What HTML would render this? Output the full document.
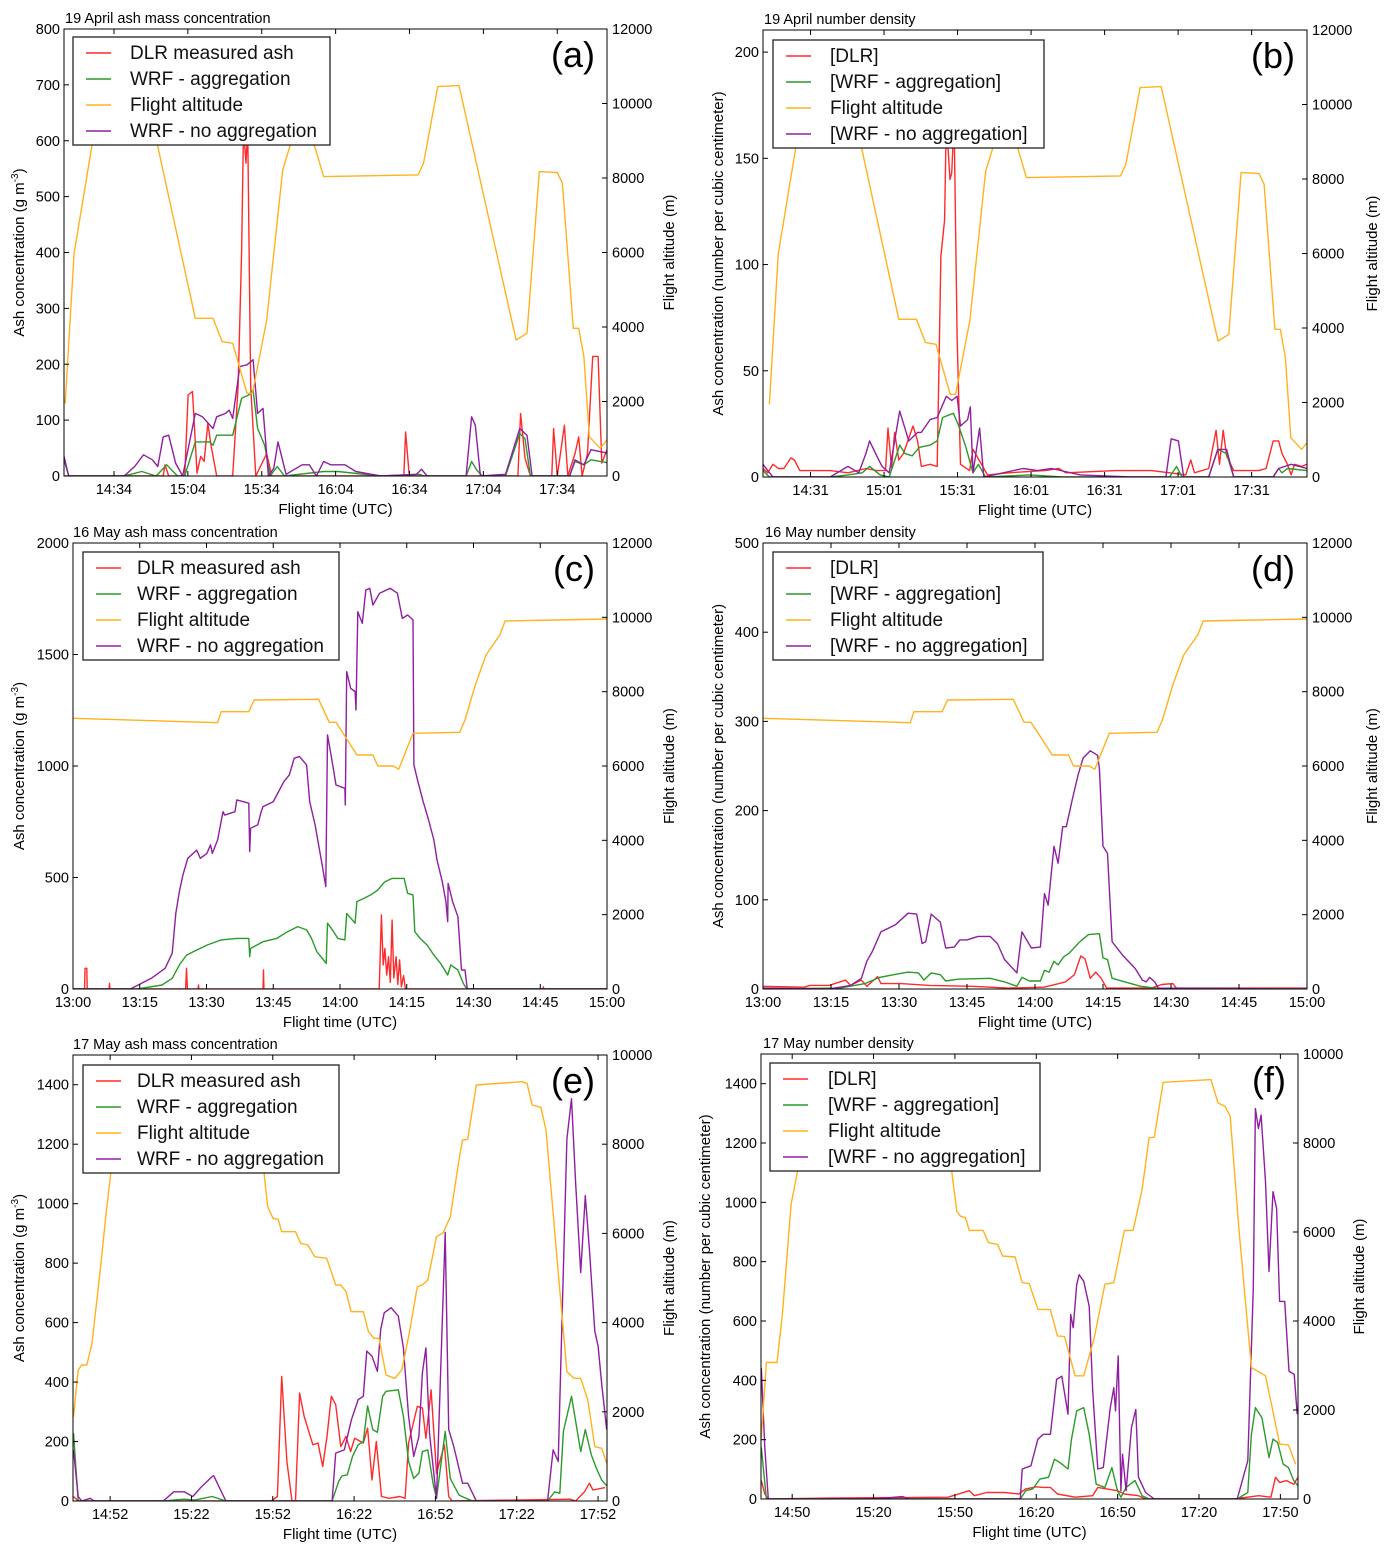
<!DOCTYPE html>
<html><head><meta charset="utf-8"><title>Ash concentration panels</title>
<style>
html,body{margin:0;padding:0;background:#fff;}
svg{display:block;font-family:"Liberation Sans",sans-serif;}
</style></head>
<body>
<svg id="fig" xmlns="http://www.w3.org/2000/svg" width="1393" height="1556" viewBox="0 0 1393 1556"></svg>
<script>
// ===== Panel (a): 19 April mass (time in minutes after 14:00) =====
const aAltT=[14.2,17.8,25.0,30,48,51.8,67.0,74.2,77.9,82.2,88.0,90.2,96.0,102.5,105.4,110.4,115.5,119.1,157.5,159.7,165.5,174.1,197.3,201.7,206.7,214.0,216.1,220.5,222.7,224.8,227.0,231.4,234.2];
const aAltV=[1951,5979,8843,10500,10500,8843,4233,4233,3607,3562,2220,2220,4189,8216,8843,9600,8843,8037,8082,8395,10454,10480,3652,3831,8171,8145,7858,3965,3965,3204,1056,743,967];
const aDlrT=[13.7,54.0,54.7,56.2,62.7,64.1,65.9,67.7,69.2,70.6,72.1,73.5,75.7,82.2,84.4,85.8,86.6,87.6,88.3,89.5,91.6,96.0,98.1,151.7,152.4,153.9,198.0,199.1,200.9,203.1,211.8,212.5,214.0,216.9,218.3,221.2,222.7,224.1,226.3,228.4,230.6,232.1,234.2];
const aDlrV=[0,0,20,0,0,145,151,5,35,26,94,52,0,0,160,400,620,560,620,160,0,40,0,0,79,0,0,112,32,0,0,85,0,91,0,40,70,0,40,214,214,23,47];
const aAggT=[13.7,15.6,38.1,45.3,51.1,55.4,59.8,62.7,67.0,72.8,74.2,75.7,82.2,85.8,88.7,90.5,92.3,95.2,97.4,100.3,103.2,119.1,124.9,142.3,158.2,159.7,177.0,179.2,181.4,183.6,193.0,198.8,200.9,203.1,219.0,221.2,224.8,227.7,234.2];
const aAggV=[29,0,0,8,0,20,0,0,61,61,55,73,73,139,145,154,85,55,0,17,0,8,8,0,3,0,0,26,10,0,0,76,67,0,0,26,20,29,24];
const aNoT=[13.7,15.6,38.1,42.4,46.0,49.6,51.8,54.0,56.2,59.0,61.9,67.0,69.9,74.2,75.7,79.3,80.8,82.2,85.1,88.0,90.5,92.3,94.5,96.7,98.9,100.6,103.9,110.4,113.3,116.2,119.1,122.0,127.8,132.2,142.3,156.8,158.9,161.1,177.0,179.2,180.7,182.8,193.0,198.8,201.7,203.8,219.0,221.2,224.8,227.7,234.2];
const aNoV=[35,0,0,17,38,29,17,70,73,23,0,112,106,85,106,112,118,103,196,199,208,112,121,0,14,61,3,20,20,0,26,20,20,8,0,3,12,0,0,106,91,0,3,85,73,0,0,29,20,47,41];
// ===== Panel (b): 19 April number =====
const bAltT=aAltT, bAltV=aAltV;
const bDlrT=[11.6,13.5,15.7,17.9,20.1,23.0,24.4,26.6,39.0,46.3,53.6,58.0,61.6,62.6,64.1,65.3,67.0,68.9,72.8,74.7,76.2,79.8,82.7,84.2,85.7,86.4,87.9,88.6,89.6,90.8,92.2,95.9,97.3,103.2,111.9,126.5,132.3,135.2,155.6,170.2,177.5,184.1,186.2,187.7,193.5,196.5,197.9,199.4,200.8,203.7,213.9,216.9,219.8,222.0,223.4,225.6,227.1,228.5,231.4,233.6];
const bDlrV=[4,2,6,4,4,9,8,3,3,2,4,3,3,23,4,21,8,11,24,17,5,6,5,104,121,168,140,143,168,66,6,3,13,1,2,3,4,2,3,3,2,1,8,2,4,22,6,22,10,3,3,4,17,17,11,6,1,6,5,6];
const bAggT=[11.6,14.2,39.0,46.3,52.1,55.1,59.4,63.1,67.4,69.6,72.5,74.7,75.5,79.8,82.7,84.9,87.1,89.3,91.5,94.4,97.3,99.5,102.4,120.6,133.8,177.5,180.4,182.6,193.5,197.2,200.8,203.7,219.8,222.0,223.4,225.6,233.6];
const bAggV=[3,0,0,1,2,5,1,0,15,11,10,13,14,15,17,28,29,30,24,14,2,6,0,1,0,0,5,0,0,13,11,0,0,4,2,4,3];
const bNoT=[11.6,13.5,15.7,39.0,46.3,50.7,53.6,55.1,58.0,60.2,63.1,67.4,71.1,74.7,76.2,79.8,82.7,86.4,88.6,90.8,92.2,95.1,96.2,97.3,100.0,101.7,117.7,123.6,129.4,141.1,161.5,176.0,178.2,181.1,183.3,193.5,197.2,200.8,203.7,219.8,222.0,227.1,233.6];
const bNoV=[6,3,0,0,5,2,11,17,10,5,2,31,17,21,21,27,28,38,36,38,24,27,33,2,23,0,4,3,4,1,0,0,18,17,0,0,13,13,0,0,4,6,4];
// ===== Panel (c): 16 May mass (minutes after 13:00) =====
const cAltT=[0,32.5,33.3,39.5,40.7,55.2,57.6,59.1,60.7,63.8,67.4,68.5,72.0,73.2,76.4,86.9,88.1,90.4,92.8,95.9,97.1,108.5,120];
const cAltV=[7283,7166,7462,7462,7776,7794,7175,7175,6879,6296,6296,6000,6000,5910,6879,6906,7238,8180,8987,9525,9902,9929,9956];
const cDlrT=[0,2.6,2.7,3.1,3.2,8.1,8.2,8.3,25.3,25.5,25.7,28.1,28.2,28.3,42.7,42.8,42.9,68.8,69.3,69.7,70.1,70.5,70.9,71.3,71.7,72.1,72.6,73.0,73.4,73.8,74.3,74.7,105.6,105.7,105.8,120];
const cDlrV=[0,0,93,93,0,0,25,0,0,93,0,0,18,0,0,85,0,0,332,108,182,63,145,30,309,50,145,20,130,10,60,0,0,10,0,0];
const cAggT=[0,14.5,20.0,22.3,23.9,25.5,27.0,28.6,30.1,33.3,36.8,39.5,39.7,39.9,42.7,45.8,48.2,50.5,52.5,53.6,54.8,56.0,56.9,57.2,58.3,59.5,61.1,61.5,63.4,63.8,65.4,66.9,68.5,70.1,71.7,74.4,75.2,76.4,76.8,78.0,79.6,81.1,82.6,84.2,84.9,86.5,87.7,88.5,120];
const cAggV=[0,0,18,48,108,152,167,182,197,220,227,227,145,182,212,227,257,280,265,227,167,138,115,295,265,227,220,339,295,392,407,422,444,481,496,496,429,422,257,227,197,152,115,63,108,85,25,0,0];
const cNoT=[0,12.9,17.6,20.7,22.3,23.1,23.9,24.7,25.8,27.8,28.6,30.1,30.9,31.3,32.5,33.7,34.1,36.4,36.8,39.5,39.7,39.9,41.5,42.3,42.7,45.0,45.8,47.4,48.6,49.7,50.9,52.5,53.2,54.4,55.2,56.0,56.8,57.2,58.0,59.1,61.1,61.2,61.5,62.4,63.4,63.6,64.0,65.0,65.8,66.7,67.4,68.9,71.3,72.9,74.0,75.2,76.4,76.6,77.5,78.7,79.9,81.1,81.8,83.0,83.8,84.2,84.3,85.3,86.5,87.3,88.1,88.6,120];
const cNoV=[0,0,48,93,160,339,437,511,586,623,586,608,646,608,668,795,780,795,848,833,616,721,736,795,818,840,870,930,960,1035,1042,1005,840,736,646,556,459,1139,1049,915,900,825,1423,1348,1334,1251,1692,1640,1789,1797,1722,1775,1797,1775,1662,1677,1655,1005,930,840,758,668,579,481,392,302,474,392,324,85,85,0,0];
// ===== Panel (d): 16 May number =====
const dAltT=cAltT, dAltV=cAltV;
const dDlrT=[0,9.1,10.3,14.6,18.2,19.3,21.7,22.9,25.3,26.0,30.4,36.7,46.2,54.1,62.0,66.7,68.7,70.1,71.0,72.2,73.4,74.6,75.8,85.6,88.0,90.4,91.2,120];
const dDlrV=[3,2,4,4,10,4,10,3,14,6,6,4,3,1,2,8,16,37,34,12,19,12,1,1,5,6,1,1];
const dAggT=[0,17.0,22.5,25.7,28.8,32.0,34.3,35.5,37.1,39.1,40.3,43.0,50.1,53.3,56.0,57.1,58.8,61.2,62.1,63.1,64.2,65.1,66.3,67.5,69.9,71.8,74.2,75.0,76.0,77.0,83.3,86.4,120];
const dAggV=[0,1,6,13,16,19,18,10,18,16,9,11,12,8,3,13,9,9,21,19,31,27,36,40,53,61,62,35,33,12,3,1,0];
const dNoT=[0,14.6,19.3,21.7,22.9,24.1,26.0,29.2,32.0,33.9,35.1,35.9,37.1,39.1,40.3,42.2,43.4,45.0,47.4,50.1,51.7,53.3,56.0,57.1,59.2,61.2,62.1,62.9,64.2,65.1,66.1,66.9,68.3,69.5,70.6,72.2,73.8,74.2,75.0,76.0,77.0,79.3,82.1,83.7,84.5,85.3,86.4,87.2,120];
const dNoV=[1,0,4,12,31,42,64,72,85,84,51,53,84,75,46,47,55,55,59,59,51,33,18,64,46,47,107,94,160,141,182,182,214,240,259,267,262,247,160,152,53,38,23,10,8,13,8,1,0];
// ===== Panel (e): 17 May mass (minutes after 14:00) =====
const eAltT=[38.5,40.2,41.5,43.4,45.3,48.5,50.5,52.4,56.2,105,108.8,110.1,112.1,114.0,115.3,120.4,122.3,124.9,127.5,131.9,135.2,137.1,139.0,140.9,145.4,147.3,149.3,151.2,153.8,157.0,159.6,162.1,165.3,167.2,169.2,172.4,174.9,177.5,180.7,182.0,183.9,187.1,203.8,205.8,207.7,210.9,212.8,216.6,220.5,223.1,225.6,228.2,230.8,233.3,235.2];
const eAltV=[1891,2937,3049,3049,3535,5254,6450,7422,9000,9000,7347,6600,6338,6315,6039,6039,5777,5740,5478,5441,4843,4843,4694,4245,4245,3797,3647,3647,2825,2750,2937,3685,4806,4843,4955,5927,6017,6375,7646,8094,8109,9327,9402,9365,8879,8827,8318,5628,2900,2750,2750,2265,1218,1181,845];
const eDlrT=[38.5,40.2,111.4,113.7,115.3,117.2,119.1,120.4,121.9,123.6,126.8,128.7,130.4,132.0,133.6,135.2,137.1,139.0,140.7,142.2,145.4,147.0,148.6,150.2,152.1,155.0,158.9,160.8,162.1,165.3,167.2,168.5,170.4,172.4,175.3,176.9,178.2,221.8,223.7,227.0,228.8,230.1,234.6];
const eDlrV=[15,0,0,15,419,133,0,0,363,284,189,195,116,217,352,324,183,217,166,211,195,245,71,200,15,9,15,9,195,318,313,211,374,93,189,15,0,6,0,31,60,37,45];
const eAggT=[38.5,40.2,71.6,75.5,79.3,83.2,89.6,94.7,133.9,136.3,137.5,139.5,141.4,143.5,145.4,147.0,148.9,150.6,152.5,153.8,158.3,160.2,162.1,164.0,165.9,167.2,169.2,171.1,172.4,175.6,177.5,180.7,183.3,185.8,213.4,216.0,217.9,219.2,222.2,225.6,227.3,229.5,231.4,233.3,235.2];
const eAggV=[228,0,0,3,6,3,15,0,0,65,84,88,150,189,200,320,240,231,352,369,374,285,133,76,93,166,172,60,9,234,76,20,9,0,0,31,26,234,352,166,240,155,110,71,51];
const eNoT=[38.5,40.2,41.5,44.7,46.0,71.6,75.5,79.3,82.5,85.7,89.6,90.2,94.7,133.9,135.2,138.4,141.0,143.5,145.4,146.7,148.6,150.6,151.8,153.1,155.7,158.3,160.2,162.1,164.0,165.9,167.2,168.5,169.8,172.4,175.6,176.9,178.8,182.0,183.9,187.1,213.4,215.4,217.3,220.5,222.2,223.7,225.6,227.3,228.8,230.8,232.0,233.3,235.2];
const eNoV=[172,15,0,9,0,0,31,31,15,48,82,85,0,0,161,172,273,341,352,504,487,436,577,633,650,622,515,285,150,217,431,515,228,9,903,240,183,60,60,0,0,172,133,1218,1353,1072,768,1027,847,571,521,397,240];
// ===== Panel (f): 17 May number =====
const fAltT=[38.6,40.5,44.4,46.4,49.6,52.2,56,105,108.8,110.7,112.0,113.9,115.3,120.4,122.4,125.7,127.6,132.2,134.8,137.4,140.6,145.2,147.8,150.4,154.3,157.5,161.4,165.3,168.6,172.5,175.7,179.0,181.6,183.5,186.8,204.4,207.0,209.6,211.5,214.8,219.3,224.5,227.1,229.7,233.0,235.6];
const fAltV=[1384,3067,3067,4151,6620,7443,9000,9000,7368,6470,6358,6321,6036,6036,5760,5722,5460,5438,4862,4840,4264,4256,3665,3650,2768,2768,3628,4825,4862,6036,6036,6956,8116,8131,9365,9425,8901,8826,8602,6021,2955,2768,2020,1234,1212,785];
const fDlrT=[38.6,39.9,41.2,63.3,107.5,115.3,117.2,121.8,128.3,133.5,136.1,140.0,142.6,145.2,147.8,154.3,160.8,162.7,166.0,169.9,172.5,177.7,180.3,212.8,222.0,226.5,228.2,229.7,232.3,234.9,236.5];
const fDlrV=[62,17,0,3,6,28,11,22,22,17,34,41,39,39,17,6,11,39,34,28,17,11,0,0,11,6,73,56,62,50,73];
const fAggT=[38.6,40.5,134.1,136.1,138.7,141.3,144.5,146.7,149.1,151.7,153.0,154.9,157.5,159.5,162.1,165.3,167.9,169.9,171.2,173.1,176.4,179.0,181.6,214.1,218.0,219.3,220.8,223.2,225.8,227.3,229.0,231.0,233.0,234.9,236.5];
const fAggV=[174,0,0,28,34,67,73,134,120,101,202,297,308,218,50,39,106,28,6,39,62,11,0,0,22,218,308,274,140,202,190,118,106,62,45];
const fNoT=[38.6,39.9,41.2,80.2,90.6,93.2,134.1,134.8,138.0,140.6,142.6,145.2,147.5,149.4,151.7,152.7,153.6,154.9,155.8,157.5,159.5,160.8,162.7,164.7,167.3,168.6,169.2,170.2,171.2,171.8,173.1,175.1,176.7,177.7,180.3,183.5,214.1,218.0,219.3,220.0,220.8,221.9,222.9,224.5,225.8,227.3,228.6,229.7,231.6,233.2,235.1,236.2];
const fNoV=[442,174,0,0,8,0,0,101,112,202,218,218,403,414,286,622,577,722,756,734,650,364,101,106,308,375,297,482,28,151,28,241,302,73,22,0,0,129,510,711,1316,1249,1294,1070,767,1036,980,666,666,431,420,286];

// tick values
const aTimeTicks=[34,64,94,124,154,184,214];
const bTimeTicks=[31,61,91,121,151,181,211];
const cdTimeTicks=[0,15,30,45,60,75,90,105,120];
const eTimeTicks=[52,82,112,142,172,202,232];
const fTimeTicks=[50,80,110,140,170,200,230];
const aYTicks=[0,100,200,300,400,500,600,700,800];
const bYTicks=[0,50,100,150,200];
const cYTicks=[0,500,1000,1500,2000];
const dYTicks=[0,100,200,300,400,500];
const efYTicks=[0,200,400,600,800,1000,1200,1400];
const alt12Ticks=[0,2000,4000,6000,8000,10000,12000];
const alt10Ticks=[0,2000,4000,6000,8000,10000];

const NS="http://www.w3.org/2000/svg";
const svg=document.getElementById('fig');
const COL={dlr:'#ff2a2a',agg:'#2a9a2a',alt:'#ffb21e',no:'#8f1fa0'};
function mk(tag,attrs,parent){const e=document.createElementNS(NS,tag);for(const k in attrs)e.setAttribute(k,attrs[k]);(parent||svg).appendChild(e);return e;}
function fmt(t,base){const h=base+Math.floor(t/60);const m=Math.round(t-Math.floor(t/60)*60);return h+':'+(m<10?'0':'')+m;}

function panel(p){
  const g=mk('g',{});
  
  
  const xs=t=>p.L+(t-p.x0)/(p.x1-p.x0)*(p.R-p.L);
  const ys=v=>p.B-(v-0)/(p.ymax)*(p.B-p.T);
  const as=v=>p.B-v/p.amax*(p.B-p.T);
  const cid='clip-'+p.id;
  const cp=mk('clipPath',{id:cid},g);
  mk('rect',{x:p.L,y:p.T,width:p.R-p.L,height:p.B-p.T},cp);
  const sg=mk('g',{'clip-path':'url(#'+cid+')'},g);
  function line(T,V,sc,color,name){
    let d='';for(let i=0;i<T.length;i++){d+=(i?'L':'M')+xs(T[i]).toFixed(1)+','+sc(V[i]).toFixed(1);}
    const pth=mk('path',{d:d,fill:'none',stroke:color,'stroke-width':1.4,'stroke-linejoin':'round'},sg);
    
    
  }
  line(p.dlrT,p.dlrV,ys,COL.dlr,'dlr-line-'+p.id);
  line(p.aggT,p.aggV,ys,COL.agg,'wrf-aggregation-line-'+p.id);
  line(p.noT,p.noV,ys,COL.no,'wrf-no-aggregation-line-'+p.id);
  line(p.altT,p.altV,as,COL.alt,'flight-altitude-line-'+p.id);
  const fr=mk('rect',{x:p.L,y:p.T,width:p.R-p.L,height:p.B-p.T,fill:'none',stroke:'#000','stroke-width':1},g);
  
  
  p.xt.forEach(t=>{const x=xs(t);
    mk('line',{x1:x,x2:x,y1:p.B,y2:p.B-5,stroke:'#000'},g);
    mk('line',{x1:x,x2:x,y1:p.T,y2:p.T+5,stroke:'#000'},g);
    const tx=mk('text',{x:x,y:p.B+18,'text-anchor':'middle','font-size':14.5,fill:'#000'},g);
    tx.textContent=fmt(t,p.base);
    
    
  });
  p.yt.forEach(v=>{const y=ys(v);
    mk('line',{x1:p.L,x2:p.L+5,y1:y,y2:y,stroke:'#000'},g);
    const tx=mk('text',{x:p.L-4,y:y+5,'text-anchor':'end','font-size':14.5,fill:'#000'},g);
    tx.textContent=v;
    
    
  });
  p.at.forEach(v=>{const y=as(v);
    mk('line',{x1:p.R,x2:p.R-5,y1:y,y2:y,stroke:'#000'},g);
    const tx=mk('text',{x:p.R+5,y:y+5,'text-anchor':'start','font-size':14.5,fill:'#000'},g);
    tx.textContent=v;
    
    
  });
  const tt=mk('text',{x:p.tx,y:p.T-6,'font-size':14.5,fill:'#000'},g);
  tt.textContent=p.title;
  
  
  const xt=mk('text',{x:(p.L+p.R)/2,y:p.B+38,'text-anchor':'middle','font-size':15,fill:'#000'},g);
  xt.textContent='Flight time (UTC)';
  
  
  const cy=(p.T+p.B)/2;
  const yl=mk('text',{x:p.ylx,y:cy,'text-anchor':'middle','font-size':15,fill:'#000',transform:'rotate(-90 '+p.ylx+' '+cy+')'},g);
  if(p.mass){yl.innerHTML='Ash concentration (g m<tspan font-size="10" dy="-6">-3</tspan><tspan dy="6">)</tspan>';}
  else{yl.textContent='Ash concentration (number per cubic centimeter)';}
  
  
  const yr=mk('text',{x:p.yrx,y:cy,'text-anchor':'middle','font-size':15,fill:'#000',transform:'rotate(-90 '+p.yrx+' '+cy+')'},g);
  yr.textContent='Flight altitude (m)';
  
  
  const pl=mk('text',{x:p.R-12,y:p.T+38,'text-anchor':'end','font-size':36,fill:'#000'},g);
  pl.textContent='('+p.id+')';
  
  
  const lg=mk('g',{},g);
  
  
  mk('rect',{x:p.lx,y:p.ly,width:p.lw,height:108,fill:'#fff',stroke:'#222','stroke-width':1.3},lg);
  const labs=p.mass?['DLR measured ash','WRF - aggregation','Flight altitude','WRF - no aggregation']:['[DLR]','[WRF - aggregation]','Flight altitude','[WRF - no aggregation]'];
  const cols=[COL.dlr,COL.agg,COL.alt,COL.no];
  for(let i=0;i<4;i++){
    const y=p.ly+16+i*26;
    const en=mk('g',{},lg);
    
    
    mk('line',{x1:p.lx+13,x2:p.lx+38,y1:y,y2:y,stroke:cols[i],'stroke-width':1.6},en);
    const t=mk('text',{x:p.lx+p.ltx,y:y+6,'font-size':19,fill:'#111'},en);
    t.textContent=labs[i];
  }
}

panel({id:'a',L:64,T:29,R:607,B:476,x0:13.7,x1:234.2,ymax:800,amax:12000,base:14,xt:aTimeTicks,yt:aYTicks,at:alt12Ticks,
  dlrT:aDlrT,dlrV:aDlrV,aggT:aAggT,aggV:aAggV,noT:aNoT,noV:aNoV,altT:aAltT,altV:aAltV,
  title:'19 April  ash mass  concentration',tx:65,mass:true,ylx:24,yrx:674,lx:73,ly:37,lw:257,ltx:57});
panel({id:'b',L:763,T:30,R:1307,B:477,x0:11.6,x1:233.6,ymax:210.4,amax:12000,base:14,xt:bTimeTicks,yt:bYTicks,at:alt12Ticks,
  dlrT:bDlrT,dlrV:bDlrV,aggT:bAggT,aggV:bAggV,noT:bNoT,noV:bNoV,altT:bAltT,altV:bAltV,
  title:'19 April  number  density',tx:764,mass:false,ylx:723,yrx:1377,lx:773,ly:40,lw:271,ltx:57});
panel({id:'c',L:73,T:543,R:607,B:989,x0:0,x1:120,ymax:2000,amax:12000,base:13,xt:cdTimeTicks,yt:cYTicks,at:alt12Ticks,
  dlrT:cDlrT,dlrV:cDlrV,aggT:cAggT,aggV:cAggV,noT:cNoT,noV:cNoV,altT:cAltT,altV:cAltV,
  title:'16 May  ash mass  concentration',tx:73,mass:true,ylx:24,yrx:674,lx:83,ly:552,lw:256,ltx:54});
panel({id:'d',L:763,T:543,R:1307,B:989,x0:0,x1:120,ymax:500,amax:12000,base:13,xt:cdTimeTicks,yt:dYTicks,at:alt12Ticks,
  dlrT:dDlrT,dlrV:dDlrV,aggT:dAggT,aggV:dAggV,noT:dNoT,noV:dNoV,altT:dAltT,altV:dAltV,
  title:'16 May  number  density',tx:765,mass:false,ylx:723,yrx:1377,lx:773,ly:552,lw:270,ltx:57});
panel({id:'e',L:73,T:1055,R:607,B:1501,x0:38.3,x1:235.3,ymax:1500,amax:10000,base:14,xt:eTimeTicks,yt:efYTicks,at:alt10Ticks,
  dlrT:eDlrT,dlrV:eDlrV,aggT:eAggT,aggV:eAggV,noT:eNoT,noV:eNoV,altT:eAltT,altV:eAltV,
  title:'17 May  ash mass  concentration',tx:73,mass:true,ylx:24,yrx:674,lx:83,ly:1065,lw:256,ltx:54});
panel({id:'f',L:761,T:1054,R:1298,B:1499,x0:38.5,x1:236.5,ymax:1500,amax:10000,base:14,xt:fTimeTicks,yt:efYTicks,at:alt10Ticks,
  dlrT:fDlrT,dlrV:fDlrV,aggT:fAggT,aggV:fAggV,noT:fNoT,noV:fNoV,altT:fAltT,altV:fAltV,
  title:'17 May  number  density',tx:763,mass:false,ylx:710,yrx:1364,lx:770,ly:1063,lw:270,ltx:58});
</script>
</body></html>
